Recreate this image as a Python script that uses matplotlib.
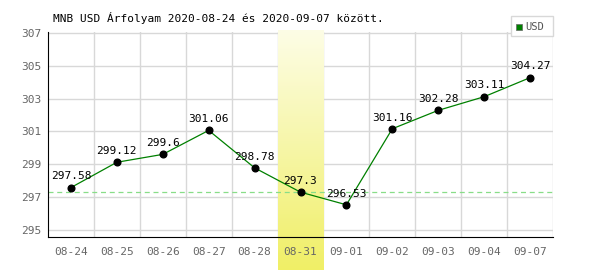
import matplotlib
matplotlib.use("Agg")
import matplotlib.pyplot as plt
import numpy as np
from matplotlib.patches import Rectangle
from matplotlib.colors import LinearSegmentedColormap

dates = ["08-24", "08-25", "08-26", "08-27", "08-28", "08-31",
         "09-01", "09-02", "09-03", "09-04", "09-07"]
values = [297.58, 299.12, 299.6, 301.06, 298.78, 297.3,
          296.53, 301.16, 302.28, 303.11, 304.27]
labels = ["297.58", "299.12", "299.6", "301.06", "298.78", "297.3",
          "296.53", "301.16", "302.28", "303.11", "304.27"]
yticks = [295, 297, 299, 301, 303, 305, 307]
highlight = "08-31"
ref_value = 297.3
title = "MNB USD Árfolyam 2020-08-24 és 2020-09-07 között."
series_name = "USD"

plt.rcParams['font.family'] = ['DejaVu Sans Mono']
fig = plt.figure(figsize=(6, 2.7), dpi=100)
ax = fig.add_axes([48/600, 33/270, 505/600, 205/270])

x = np.arange(len(dates))
ax.set_xlim(-0.5, len(dates) - 0.5)
ylo, yhi = 294.57, 307.05
ax.set_ylim(ylo, yhi)
ppu = 205 / (yhi - ylo)

# highlight column with gradient, extending below axis
hi = dates.index(highlight)
grad = np.linspace(0, 1, 256).reshape(-1, 1)
cmap = LinearSegmentedColormap.from_list("y", ["#f0ef66", "#fdfde6"])
ybot = ylo - 33 / ppu
ytop = yhi + 2 / ppu
ax.imshow(grad, cmap=cmap, aspect='auto',
          extent=[hi - 0.5, hi + 0.5, ybot, ytop], origin='lower',
          zorder=1.5, clip_on=False)

# grid
for yt in yticks:
    ax.axhline(yt, color="#d8d8d8", lw=1, zorder=1)
for k in range(len(dates)):
    ax.axvline(k + 0.5, color="#d8d8d8", lw=1, zorder=1)

ax.axhline(ref_value, color="#88dd88", lw=0.9, ls=(0, (4, 3)), zorder=2)

ax.plot(x, values, color="#008000", lw=0.9, zorder=3)
ax.plot(x, values, 'o', color="black", ms=4.8, zorder=4)
for xi, v, lab in zip(x, values, labels):
    ax.annotate(lab, (xi, v), xytext=(0, 4.5), textcoords="offset points",
                ha="center", va="bottom", fontsize=8, color="black", zorder=5)

ax.set_xticks(x)
ax.set_xticklabels(dates)
ax.set_yticks(yticks)
ax.tick_params(axis='both', length=0, labelsize=8, labelcolor="#666666")
ax.tick_params(axis='x', pad=7)
ax.tick_params(axis='y', pad=5)
for s in ["top", "right"]:
    ax.spines[s].set_visible(False)
ax.spines["left"].set_color("black")
ax.spines["bottom"].set_color("black")
ax.spines["left"].set_zorder(6)
ax.spines["bottom"].set_zorder(6)

fig.text(53/600, 1 - 18/270, title, fontsize=8, color="black", va="center", ha="left")

# legend box
fig.patches.append(Rectangle((511/600, 1 - 36/270), 42/600, 20/270,
                             transform=fig.transFigure, facecolor="white",
                             edgecolor="#d8d8d8", lw=1, zorder=10))
fig.patches.append(Rectangle((516/600, 1 - 30/270), 6/600, 6/270,
                             transform=fig.transFigure, facecolor="#008000",
                             edgecolor="#666666", lw=0.5, zorder=11))
fig.text(525/600, 1 - 26.5/270, series_name, fontsize=7.5, color="#555555",
         va="center", ha="left", zorder=12)

fig.savefig("out.png", dpi=100)
